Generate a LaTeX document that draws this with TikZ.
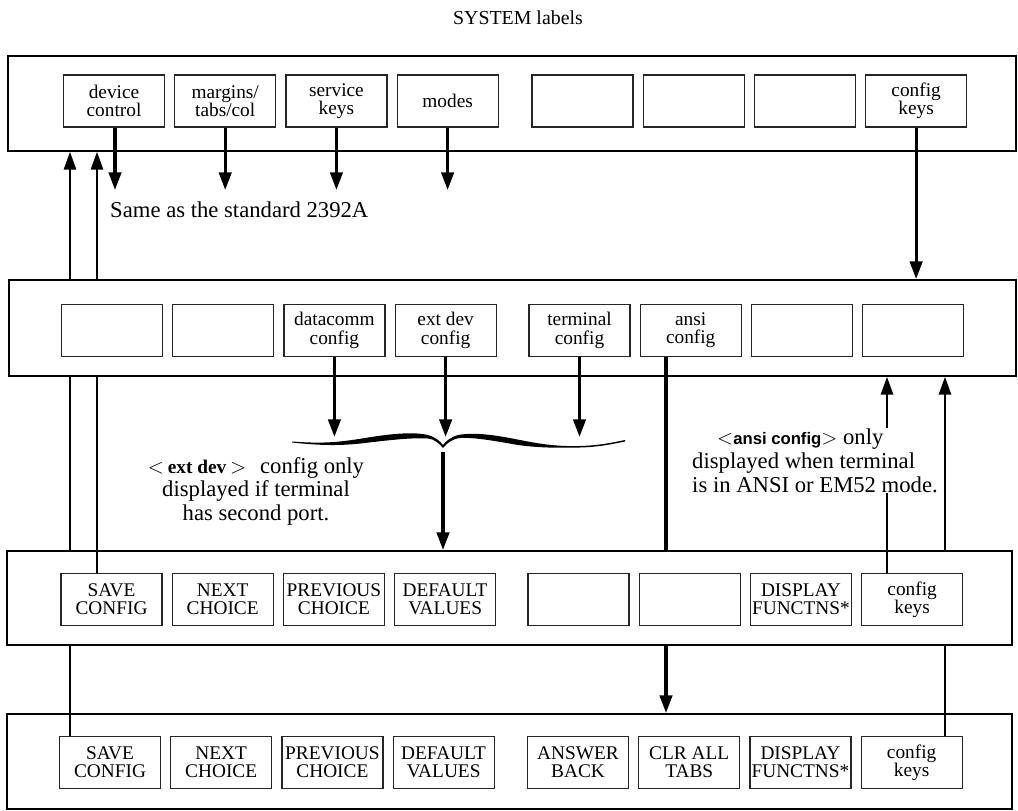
\documentclass[tikz,border=0pt]{standalone}
\usepackage{fontspec}
\setmainfont{Liberation Serif}
\setsansfont{Liberation Sans}
\usepackage{tikz}
\usetikzlibrary{arrows.meta,positioning}

\begin{document}
\begin{tikzpicture} [
        x=0.02cm, y=-0.02cm,
        >={Triangle[length=10pt,width=7pt]},
        rowframe/.style={draw, line width=1.1pt, inner sep=0pt},
        softkey/.style={draw=black!85, line width=0.7pt, inner sep=0pt,
            minimum width=2.02cm, minimum height=1.04cm, align=center,
            font=\fontsize{11}{10.4}\selectfont},
        remark/.style={font=\fontsize{12.9}{13.4}\selectfont, inner sep=0.5pt},
        mainline/.style={line width=1.8pt},
        retline/.style={line width=0.9pt},
        node distance=0.18cm
    ]
    \useasboundingbox (0,0) rectangle (1018,811);

    \node[font=\fontsize{11.3}{13}\selectfont] (title) at (518,18) {SYSTEM labels};

    % the four rows of keys
    \node[rowframe, minimum width=20.16cm, minimum height=1.90cm] (row1) at (512,103.5)  {};
    \node[rowframe, minimum width=20.14cm, minimum height=1.92cm] (row2) at (512.5,328)  {};
    \node[rowframe, minimum width=20.10cm, minimum height=1.88cm] (row3) at (509.5,598)  {};
    \node[rowframe, minimum width=20.10cm, minimum height=1.90cm] (row4) at (509.5,761.5) {};

    % SYSTEM labels
    \node[softkey]                  (dev)    at (114,101)    {device\\control};
    \node[softkey, right=of dev]    (marg)                   {margins/\\tabs/col};
    \node[softkey, right=of marg]   (serv)                   {service\\keys};
    \node[softkey, right=of serv]   (modes)                  {modes};
    \node[softkey]                  (r1e)    at (582.5,101)  {};
    \node[softkey, right=of r1e]    (r1f)                    {};
    \node[softkey, right=of r1f]    (r1g)                    {};
    \node[softkey, right=of r1g]    (keysA)                  {config\\keys};

    % config labels
    \node[softkey]                  (r2a)    at (112,330.5)  {};
    \node[softkey, right=of r2a]    (r2b)                    {};
    \node[softkey, right=of r2b]    (dcomm)                  {datacomm\\config};
    \node[softkey, right=of dcomm]  (extdev)                 {ext dev\\config};
    \node[softkey]                  (term)   at (579.5,330.5) {terminal\\config};
    \node[softkey, right=of term]   (ansi)                   {ansi\\config};
    \node[softkey, right=of ansi]   (r2g)                    {};
    \node[softkey, right=of r2g]    (r2h)                    {};

    % field labels
    \node[softkey]                  (saveB)  at (111.5,599.5) {SAVE\\CONFIG};
    \node[softkey, right=of saveB]  (nextB)                  {NEXT\\CHOICE};
    \node[softkey, right=of nextB]  (prevB)                  {PREVIOUS\\CHOICE};
    \node[softkey, right=of prevB]  (defB)                   {DEFAULT\\VALUES};
    \node[softkey]                  (r3e)    at (578.5,599.5) {};
    \node[softkey, right=of r3e]    (r3f)                    {};
    \node[softkey, right=of r3f]    (dispB)                  {DISPLAY\\FUNCTNS*};
    \node[softkey, right=of dispB]  (keysB)                  {config\\keys};

    % ansi labels
    \node[softkey]                  (saveC)  at (110,762.5)  {SAVE\\CONFIG};
    \node[softkey, right=of saveC]  (nextC)                  {NEXT\\CHOICE};
    \node[softkey, right=of nextC]  (prevC)                  {PREVIOUS\\CHOICE};
    \node[softkey, right=of prevC]  (defC)                   {DEFAULT\\VALUES};
    \node[softkey]                  (ansback) at (578,762.5) {ANSWER\\BACK};
    \node[softkey, right=of ansback] (clrtabs)               {CLR ALL\\TABS};
    \node[softkey, right=of clrtabs] (dispC)                 {DISPLAY\\FUNCTNS*};
    \node[softkey, right=of dispC]  (keysC)                  {config\\keys};

    \node[remark, anchor=west]      (same)   at (109,210)    {Same as the standard 2392A};

    \coordinate (retA)  at (70,0);
    \coordinate (retB)  at (97,0);
    \coordinate (retC)  at (887,0);
    \coordinate (retD)  at (945,0);
    \coordinate (devX)  at (115,0);
    \coordinate (ansiX) at (666,0);
    \coordinate (stop1) at (0,190);
    \coordinate (stop2) at (0,437);
    \coordinate (btip)  at (443,452);

    % brace under the config row
    \fill (292,441.5) .. controls (320,443.5) and (335,443) .. (365,438)
        .. controls (395,433) and (415,432) .. (428,435)
        .. controls (435,437) and (440,441) .. (443,445)
        .. controls (446,441) and (451,437) .. (458,435)
        .. controls (475,432) and (495,435) .. (520,440)
        .. controls (545,445) and (560,446.5) .. (580,446)
        .. controls (600,445.5) and (615,442) .. (625,440)
        -- (625,441.5)
        .. controls (615,443.5) and (600,447) .. (580,447.5)
        .. controls (560,448) and (540,448) .. (518,445)
        .. controls (495,441) and (473,437) .. (460,438)
        .. controls (452,439) and (447,443) .. (443,448)
        .. controls (439,443) and (434,439) .. (428,438.5)
        .. controls (412,437.5) and (390,440) .. (365,443)
        .. controls (340,446) and (320,445.5) .. (292,442.5) -- cycle;

    \path[mainline]
    % SYSTEM row
    (dev.south -| devX)   edge [->] (devX |- stop1)
    (marg.south)          edge [->] (marg |- stop1)
    (serv.south)          edge [->] (serv |- stop1)
    (modes.south)         edge [->] (modes |- stop1)
    (keysA.south)         edge [->] (keysA |- row2.north)
    % config row
    (dcomm.south)         edge [->] (dcomm |- stop2)
    (extdev.south)        edge [->] (extdev |- stop2)
    (term.south)          edge [->] (term |- stop2)
    (btip)                edge [->] (btip |- row3.north)
    % ansi config
    (ansi.south -| ansiX) edge      (ansiX |- row3.north)
    (row3.south -| ansiX) edge [->] (ansiX |- row4.north);

    \path[retline]
    % SAVE CONFIG back to SYSTEM labels
    (saveC.north -| retA) edge      (row3.south -| retA)
    (row3.north -| retA)  edge      (row2.south -| retA)
    (row2.north -| retA)  edge [->] (row1.south -| retA)
    (saveB.north -| retB) edge      (row2.south -| retB)
    (row2.north -| retB)  edge [->] (row1.south -| retB)
    % config keys back to config labels
    (keysB.north -| retC) edge [->] (row2.south -| retC)
    (keysC.north -| retD) edge      (row3.south -| retD)
    (row3.north -| retD)  edge [->] (row2.south -| retD);

    \node[remark, align=center] (extnote) at (256,491)
        {$<$\,\textbf{\fontsize{11}{11}\selectfont ext dev}\,$>$\hspace{8pt}config only\\
         displayed if terminal\\ has second port.};
    \node[remark, align=left, fill=white, anchor=north west] (ansinote) at (691,428)
        {\hspace*{0.5cm}$<$\textsf{\textbf{\fontsize{9.5}{10}\selectfont ansi config}}$>$ only\\
         displayed when terminal\\ is in ANSI or EM52 mode.};
\end{tikzpicture}
\end{document}
